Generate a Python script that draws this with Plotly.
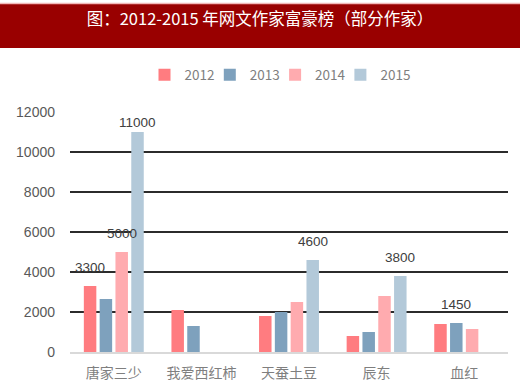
import plotly.graph_objects as go

categories = ["唐家三少", "我爱西红柿", "天蚕土豆", "辰东", "血红"]
years = ["2012", "2013", "2014", "2015"]
v2012 = [3300, 2100, 1800, 800, 1400]
v2013 = [2650, 1300, 2000, 1000, 1450]
v2014 = [5000, None, 2500, 2800, 1150]
v2015 = [11000, None, 4600, 3800, None]
series = [v2012, v2013, v2014, v2015]
colors = ["#FF7C80", "#7EA1BD", "#FFABAF", "#B3C9D9"]

# data labels shown in the reference: (category index, series index)
labelled = [(0, 0), (0, 2), (0, 3), (2, 3), (3, 3), (4, 1)]

W, H = 520, 386
L, R, T, B = 70, 12, 112, 34
pw, ph = W - L - R, H - T - B

fig = go.Figure()
legend_layouts = {}
for i, (yr, vals, c) in enumerate(zip(years, series, colors)):
    lname = "legend" if i == 0 else f"legend{i + 1}"
    fig.add_trace(go.Bar(name=yr, x=categories, y=vals, marker_color=c,
                         marker_line_width=0, legend=lname, showlegend=True))
    legend_layouts[lname] = dict(
        orientation="h", x=(144.5 + 65.3 * i - L) / pw, xanchor="left", xref="paper",
        y=1 - 75 / H, yref="container", yanchor="middle",
        bgcolor="rgba(0,0,0,0)",
        font=dict(family="Noto Sans CJK SC", size=13.5, color="#7F7F7F"),
        itemwidth=30)

bargap, bargroupgap = 0.278, 0.21
cat_w = pw / len(categories)
slot = cat_w * (1 - bargap) / len(years)
annotations = []
for ci, si in labelled:
    val = series[si][ci]
    off = (si - (len(years) - 1) / 2) * slot
    annotations.append(dict(x=categories[ci], y=val, xref="x", yref="y",
                            text=str(val), showarrow=False, xshift=off,
                            yshift=10 if val > 10000 else 19,
                            yanchor="middle",
                            font=dict(family="Liberation Sans", size=13.5, color="#404040")))

fig.update_layout(
    width=W, height=H,
    showlegend=True,
    margin=dict(l=L, r=R, t=T, b=B, autoexpand=False),
    paper_bgcolor="white", plot_bgcolor="white",
    barmode="group", bargap=bargap, bargroupgap=bargroupgap,
    title=dict(text="图：2012-2015 年网文作家富豪榜（部分作家）",
               x=0.5, xref="container", xanchor="center",
               y=1 - 19 / H, yref="container", yanchor="middle",
               font=dict(family="Noto Sans CJK SC", size=16.5, color="white")),
    xaxis=dict(showgrid=False, showline=True, linecolor="#D9D9D9", linewidth=1.5,
               ticks="", ticklabelstandoff=7,
               tickfont=dict(family="Noto Sans CJK SC", size=14, color="#7F7F7F")),
    yaxis=dict(range=[0, 12000], dtick=2000, tickformat="d", showgrid=True,
               gridcolor="#2b2b2b", gridwidth=1.6, zeroline=False, showline=False,
               ticks="", ticklabelstandoff=14,
               tickfont=dict(family="Liberation Sans", size=14, color="#595959")),
    annotations=annotations,
    shapes=[
        dict(type="rect", xref="paper", yref="paper",
             x0=-L / pw, x1=1 + R / pw,
             y0=1 + (T - 48) / ph, y1=1 + (T - 4) / ph,
             fillcolor="#990000", line_width=0, layer="below"),
        dict(type="line", xref="paper", yref="paper",
             x0=-L / pw, x1=1 + R / pw,
             y0=1 + (T - 3.5) / ph, y1=1 + (T - 3.5) / ph,
             line=dict(color="#F2B8B8", width=1.5)),
    ],
    **legend_layouts,
)

fig.write_html("out.html", config={"displayModeBar": False},
               post_script="document.body.style.margin='0';document.body.style.padding='0';")
